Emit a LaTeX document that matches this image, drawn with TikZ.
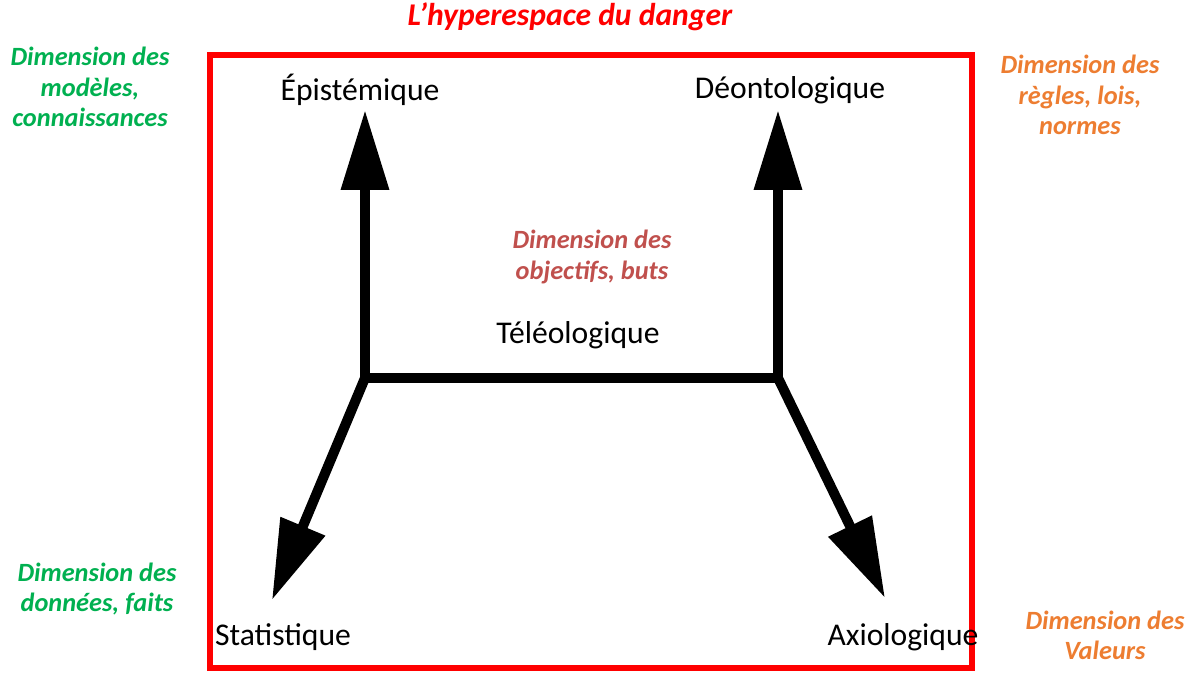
\documentclass[tikz,border=0pt]{standalone}
\usepackage{fontspec}
\setmainfont{Carlito}
\usetikzlibrary{arrows.meta}
\definecolor{dimgreen}{RGB}{0,176,80}
\definecolor{dimorange}{RGB}{237,125,49}
\definecolor{dimbrown}{RGB}{192,80,77}
\tikzset{axe/.style={line width=1mm,-{Triangle[length=8mm,width=4.6mm]}},
	pole/.style={font=\fontsize{9}{10}\selectfont},
	dim/.style={font=\bfseries\itshape\fontsize{7.5}{8.6}\selectfont,align=center}}
\begin{document}
\begin{tikzpicture}
	\useasboundingbox (0,0) rectangle (12,6.75);
	\draw [red, line width=0.6mm] (2.1,0.07) rectangle (9.72,6.2);
	\node [dim, red, font=\bfseries\itshape\fontsize{9}{10}\selectfont] (titre) at (5.7,6.58) {L'hyperespace du danger};
	\coordinate (g) at (3.65,2.97);
	\coordinate (d) at (7.78,2.97);
	\coordinate (epi) at (3.65,5.65);
	\coordinate (deo) at (7.78,5.65);
	\coordinate (sta) at (2.72,0.75);
	\coordinate (axi) at (8.85,0.77);
	\node [pole] (0) at (3.6,5.85) {Épistémique};
	\node [pole] (1) at (7.9,5.85) {Déontologique};
	\node [pole] (2) at (5.78,3.4) {Téléologique};
	\node [pole] (3) at (2.83,0.38) {Statistique};
	\node [pole] (4) at (9.03,0.38) {Axiologique};
	\node [dim, dimgreen] (5) at (0.9,5.88) {Dimension des\\modèles,\\connaissances};
	\node [dim, dimgreen] (6) at (0.97,0.86) {Dimension des\\données, faits};
	\node [dim, dimorange] (7) at (10.8,5.8) {Dimension des\\règles, lois,\\normes};
	\node [dim, dimorange] (8) at (11.05,0.4) {Dimension des\\Valeurs};
	\node [dim, dimbrown] (9) at (5.92,4.18) {Dimension des\\objectifs, buts};
	\draw [line width=1mm] (g) -- (d);
	\draw [axe] (g) -- (epi);
	\draw [axe] (d) -- (deo);
	\draw [axe] (g) -- (sta);
	\draw [axe] (d) -- (axi);
\end{tikzpicture}
\end{document}
